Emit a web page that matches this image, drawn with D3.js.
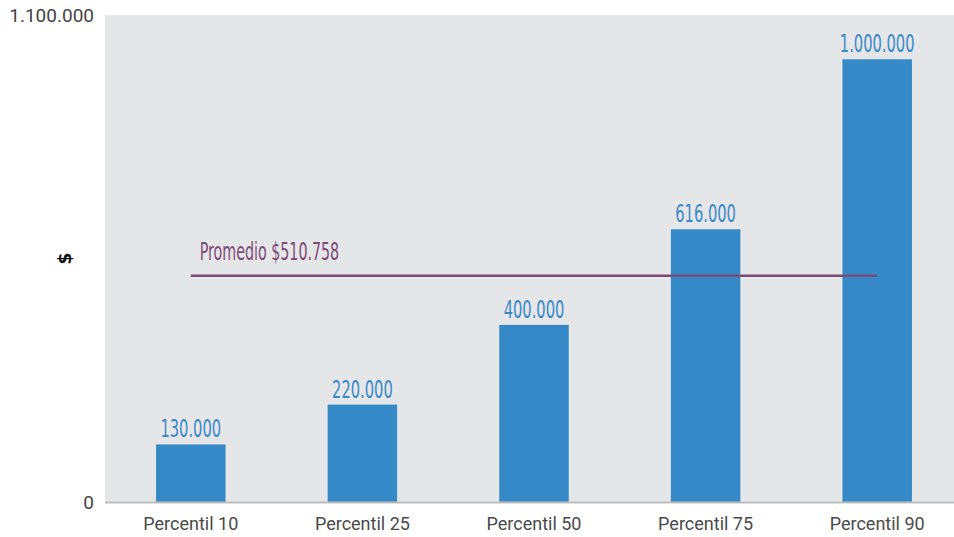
<!DOCTYPE html>
<html><head><meta charset="utf-8">
<script src="https://cdn.jsdelivr.net/npm/d3@7/dist/d3.min.js"></script>
<style>body{margin:0;background:#fff}svg{display:block}</style>
</head><body>
<script>
const categories = ["Percentil 10","Percentil 25","Percentil 50","Percentil 75","Percentil 90"];
const values = [130000, 220000, 400000, 616000, 1000000];
const valueLabels = ["130.000","220.000","400.000","616.000","1.000.000"];
const average = 510758;
const averageLabel = "Promedio $510.758";
const yTicks = [0, 1100000];
const yTickLabels = ["0","1.100.000"];
const yTitle = "$";

const W = 954, H = 537;
const m = {l:105, r:0, t:15, b:35};
const svg = d3.select("body").append("svg").attr("width",W).attr("height",H);

const x = d3.scaleBand().domain(categories).range([m.l, m.l + 858]).paddingInner(0.595).paddingOuter(0.2975);
const y = d3.scaleLinear().domain([0, 1100000]).range([H - m.b, m.t]);

svg.append("rect").attr("x",m.l).attr("y",m.t).attr("width",W-m.l).attr("height",(H-m.b)-m.t).attr("fill","#e5e6e8");

svg.selectAll("rect.bar").data(values).join("rect").attr("class","bar")
  .attr("x",(d,i)=>x(categories[i])).attr("width",x.bandwidth())
  .attr("y",d=>y(d)).attr("height",d=>y(0)-y(d)).attr("fill","#3589c6");

svg.append("line").attr("x1",m.l).attr("x2",W).attr("y1",y(0)+0.5).attr("y2",y(0)+0.5)
  .attr("stroke","#bdbdbd").attr("stroke-width",2);

const condensed = "'DejaVu Sans Condensed','Liberation Sans Narrow',sans-serif";
function squeeze(cx, s){ return `translate(${cx},0) scale(${s},1) translate(${-cx},0)`; }

svg.selectAll("text.vl").data(values).join("text").attr("class","vl")
  .attr("x",(d,i)=>x(categories[i])+x.bandwidth()/2).attr("y",d=>y(d)-7)
  .attr("text-anchor","middle").attr("fill","#3a8ac8")
  .style("font-family",condensed).style("font-size","24px")
  .attr("transform",(d,i)=>squeeze(x(categories[i])+x.bandwidth()/2, 0.68))
  .text((d,i)=>valueLabels[i]);

const ax1 = x(categories[0]) + x.bandwidth()/2, ax2 = x(categories[4]) + x.bandwidth()/2;
svg.append("line").attr("x1",ax1).attr("x2",ax2).attr("y1",y(average)).attr("y2",y(average))
  .attr("stroke","#7d4a78").attr("stroke-width",2.5);
svg.append("text").attr("x",ax1+9).attr("y",y(average)-16).attr("fill","#7d4a78")
  .style("font-family",condensed).style("font-size","24px")
  .attr("transform",squeeze(ax1+9, 0.66))
  .text(averageLabel);

const xAxis = svg.append("g").attr("transform",`translate(0,${y(0)})`)
  .call(d3.axisBottom(x).tickSize(0).tickPadding(15));
xAxis.select(".domain").remove();
xAxis.selectAll("text").attr("fill","#4a4a4a").style("font-family","Roboto, sans-serif").style("font-size","18px");

const yAxis = svg.append("g").attr("transform",`translate(${m.l-11},0)`)
  .call(d3.axisLeft(y).tickValues(yTicks).tickFormat((d,i)=>yTickLabels[i]).tickSize(0).tickPadding(0));
yAxis.select(".domain").remove();
yAxis.selectAll("text").attr("fill","#444").style("font-family","Roboto, sans-serif").style("font-size","19px");

svg.append("text").attr("transform",`translate(65,${(m.t+H-m.b)/2}) rotate(-90)`)
  .attr("text-anchor","middle").attr("dy","0.35em").attr("fill","#111")
  .style("font-family","'DejaVu Sans',sans-serif").style("font-weight","bold").style("font-size","17px")
  .text(yTitle);
</script>
</body></html>
